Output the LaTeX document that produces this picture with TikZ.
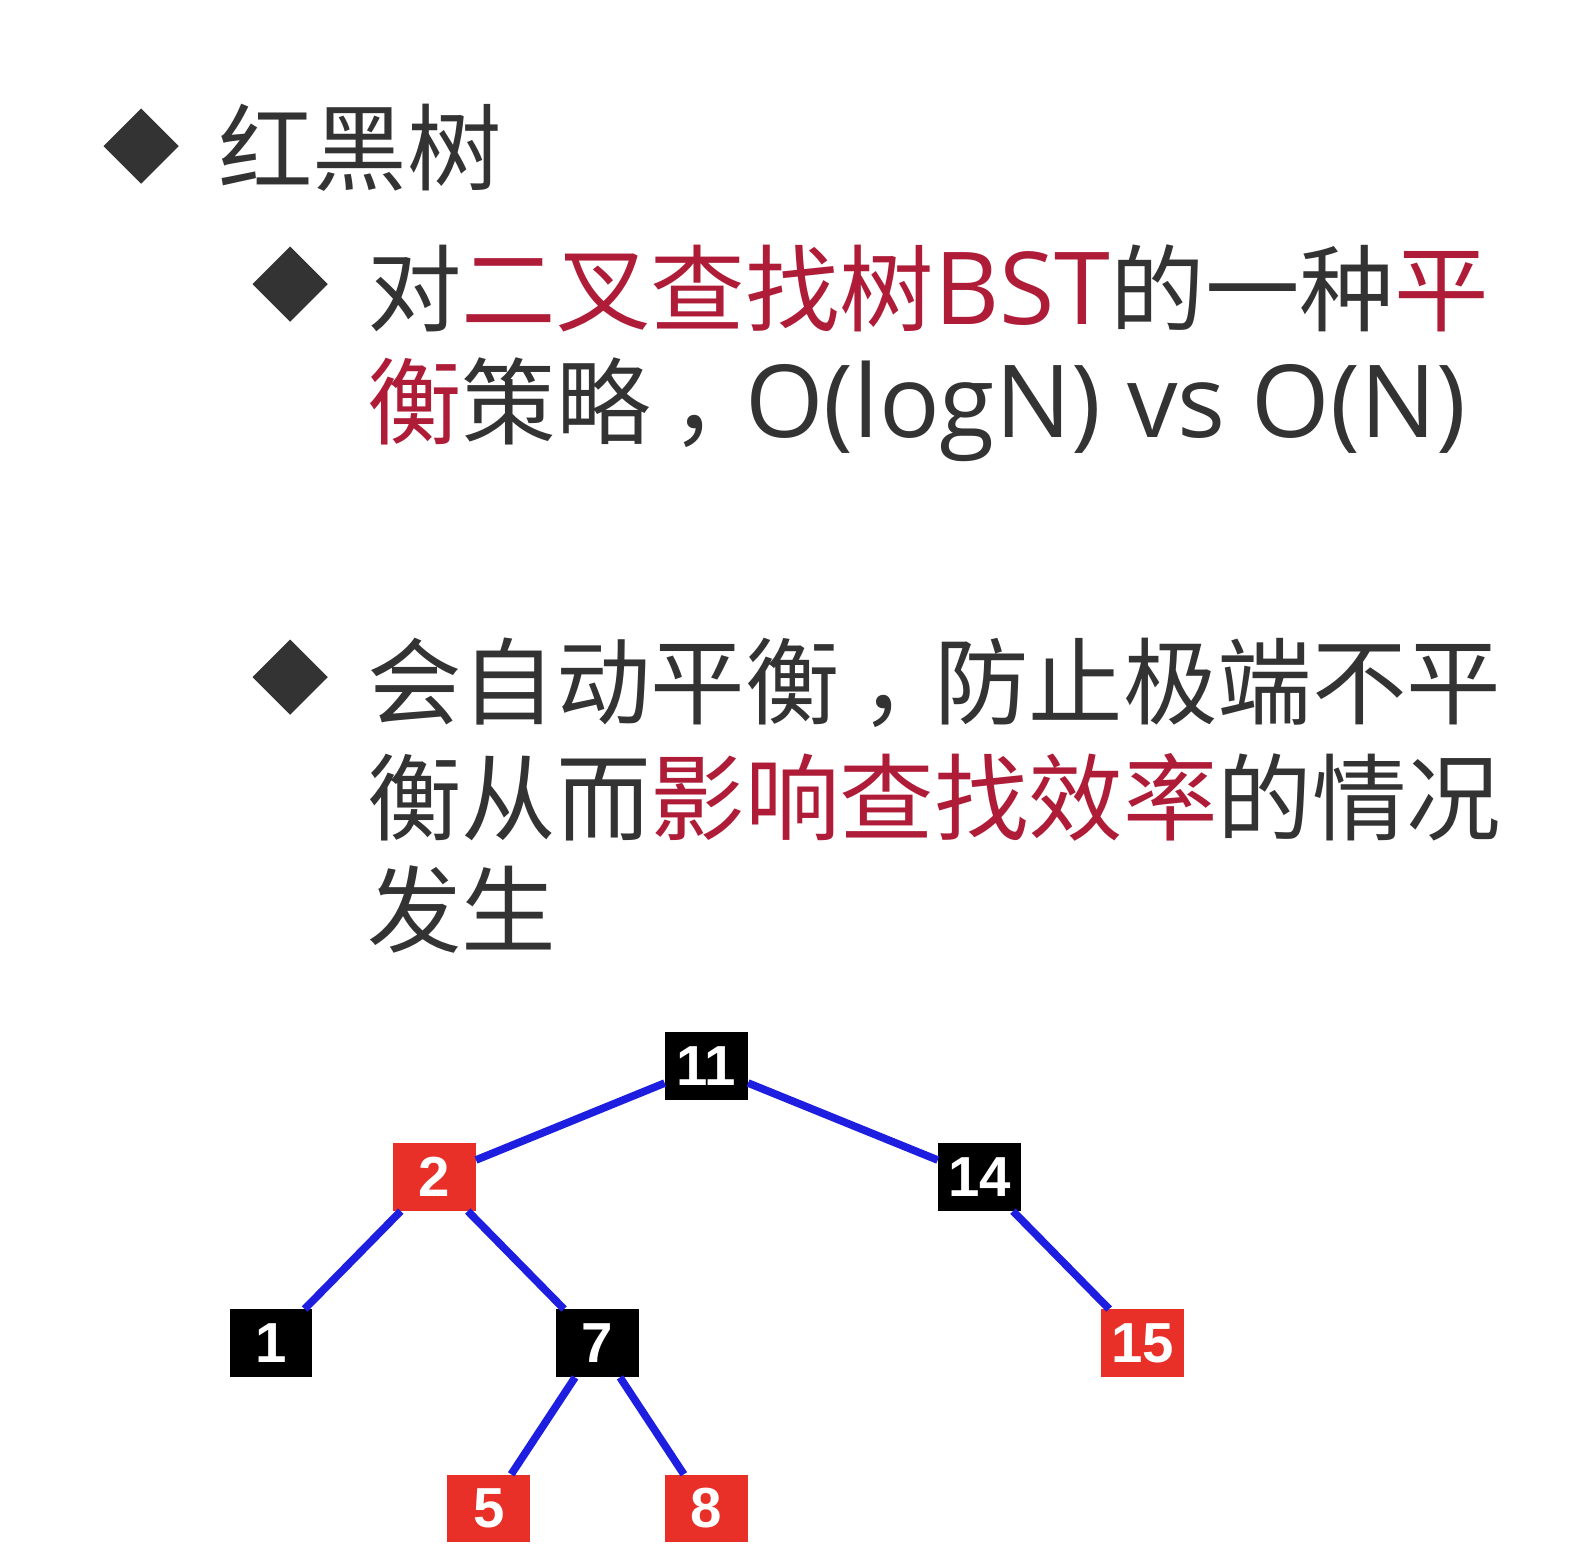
\documentclass[tikz,border=0pt]{standalone}
\usepackage{fontspec}
\setmainfont{Noto Sans CJK SC}
\newfontfamily\latfont{Open Sans}
\newfontfamily\numfont{Liberation Sans}
\usetikzlibrary{shapes.geometric}
\definecolor{txtgray}{RGB}{51,51,51}
\definecolor{hlred}{RGB}{175,28,56}
\definecolor{nodered}{RGB}{232,48,40}
\definecolor{edgeblue}{RGB}{30,30,225}
\newcommand{\hl}[1]{\textcolor{hlred}{#1}}
\newcommand{\lat}[1]{{\latfont\fontsize{50}{56}\selectfont #1}}
\newcommand{\zcomma}{\makebox[1em][l]{\hspace{.22em}，}}
\begin{document}
\begin{tikzpicture}[x=.5pt, y=-.5pt,
    bullet/.style={diamond, fill=txtgray, inner sep=0, minimum size=37.5pt},
    txtline/.style={anchor=base west, inner sep=0, text=txtgray, font=\fontsize{46.9}{56}\selectfont},
    rbnode/.style={minimum width=41pt, minimum height=33.5pt, inner sep=0, text=white,
        font=\numfont\bfseries\fontsize{28}{30}\selectfont},
    rednode/.style={rbnode, fill=nodered},
    blacknode/.style={rbnode, fill=black},
    edge/.style={edgeblue, line width=3.8pt}]
    \useasboundingbox (0,0) rectangle (1568,1552);

    \node[bullet] (b1) at (140,145) {};
    \node[bullet] (b2) at (288,282) {};
    \node[bullet] (b3) at (288,672) {};

    \node[txtline] (t1) at (216,182) {红黑树};
    \node[txtline] (t2) at (364,322) {对\hl{二叉查找树\lat{BST}}的一种\hl{平}};
    \node[txtline] (t3) at (364,434) {\hl{衡}策略\zcomma\lat{O(logN) vs O(N)}};
    \node[txtline] (t4) at (364,712) {会自动平衡\zcomma 防止极端不平};
    \node[txtline] (t5) at (364,827) {衡从而\hl{影响查找效率}的情况};
    \node[txtline] (t6) at (364,938) {发生};

    % tree
    \node[blacknode] (n11) at (701,1058) {11};
    \node[rednode] (n2) at (431,1168) {2};
    \node[blacknode] (n14) at (972,1168) {14};
    \node[blacknode] (n1) at (269,1333) {1};
    \node[blacknode] (n7) at (593,1333) {7};
    \node[rednode] (n15) at (1134,1333) {15};
    \node[rednode] (n5) at (485,1497) {5};
    \node[rednode] (n8) at (701,1497) {8};
    \foreach \a/\b in {n11/n2, n11/n14, n2/n1, n2/n7, n14/n15, n7/n5, n7/n8}
        \draw[edge] (\a) -- (\b);
\end{tikzpicture}
\end{document}
